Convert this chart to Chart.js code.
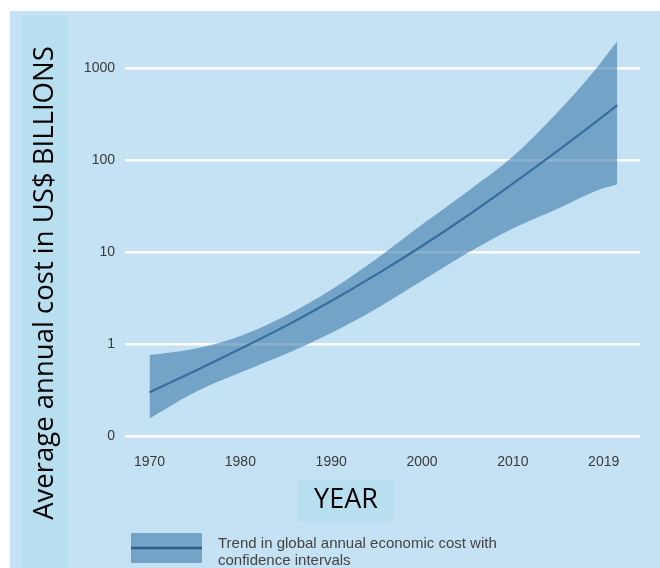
<!DOCTYPE html>
<html>
<head>
<meta charset="utf-8">
<script src="https://cdn.jsdelivr.net/npm/chart.js@4.4.0/dist/chart.umd.min.js"></script>
<style>
  html, body { margin: 0; padding: 0; background: #fff; }
  canvas { display: block; }
</style>
</head>
<body>
<canvas id="chart" width="660" height="568"></canvas>
<script>
// values, US$ billions (log scale)
const years = [1970, 1975, 1980, 1985, 1990, 1995, 2000, 2005, 2010, 2015, 2019, 2021.5];
const trend = [0.30, 0.51, 0.89, 1.58, 2.95, 5.75, 11.7, 25, 56, 129, 257, 400];
const upperBound = [0.76, 0.89, 1.23, 2.04, 3.9, 8.5, 20, 46, 110, 340, 950, 2000];
const lowerBound = [0.155, 0.30, 0.49, 0.78, 1.32, 2.45, 4.9, 9.8, 18.2, 30, 46, 55];

const yTickValues = [0.1, 1, 10, 100, 1000];
const yTickLabels = ['0', '1', '10', '100', '1000'];
const xTickValues = [1970, 1980, 1990, 2000, 2010, 2020];
const xTickLabels = ['1970', '1980', '1990', '2000', '2010', '2019'];

const bgBlue = '#c4e2f3';
const panelBlue = '#b7dff0';
const bandFill = 'rgba(61, 123, 171, 0.6)';
const bandSolid = '#73a4c8';
const lineBlue = '#2c5c8c';

const toPoints = vals => vals.map((v, i) => ({ x: years[i], y: v }));

const decorPlugin = {
    id: 'decor',
    beforeDraw: (chart) => {
        const { ctx } = chart;
        ctx.save();
        ctx.fillStyle = '#ffffff';
        ctx.fillRect(0, 0, chart.width, chart.height);
        ctx.fillStyle = bgBlue;
        ctx.fillRect(10, 11, chart.width - 10, chart.height - 11);
        ctx.fillStyle = panelBlue;
        ctx.fillRect(22, 16, 46, chart.height - 16);
        ctx.fillRect(297, 480, 96, 41);
        ctx.restore();
    },
    afterDraw: (chart) => {
        const { ctx } = chart;
        ctx.save();
        // y axis title
        ctx.translate(45, 283);
        ctx.rotate(-Math.PI / 2);
        ctx.fillStyle = '#000';
        ctx.font = '27.5px "Open Sans"';
        ctx.textAlign = 'center';
        ctx.textBaseline = 'middle';
        ctx.fillText('Average annual cost in US$ BILLIONS', 0, 0);
        ctx.restore();

        ctx.save();
        ctx.fillStyle = '#000';
        ctx.font = '27px "Open Sans"';
        ctx.textAlign = 'center';
        ctx.textBaseline = 'middle';
        ctx.fillText('YEAR', 346, 500);

        // legend
        ctx.fillStyle = bandSolid;
        ctx.fillRect(131, 533, 71, 30);
        ctx.strokeStyle = lineBlue;
        ctx.lineWidth = 2.5;
        ctx.beginPath();
        ctx.moveTo(131, 548);
        ctx.lineTo(202, 548);
        ctx.stroke();
        ctx.fillStyle = '#444';
        ctx.font = '15px "Liberation Sans"';
        ctx.textAlign = 'left';
        ctx.textBaseline = 'middle';
        ctx.fillText('Trend in global annual economic cost with', 218, 544);
        ctx.fillText('confidence intervals', 218, 561);
        ctx.restore();
    }
};

new Chart(document.getElementById('chart'), {
    type: 'line',
    data: {
        datasets: [
            {
                label: 'upper',
                data: toPoints(upperBound),
                borderWidth: 0,
                borderColor: 'rgba(0,0,0,0)',
                pointRadius: 0,
                fill: false,
                cubicInterpolationMode: 'monotone',
            },
            {
                label: 'lower',
                data: toPoints(lowerBound),
                borderWidth: 0,
                borderColor: 'rgba(0,0,0,0)',
                backgroundColor: bandFill,
                pointRadius: 0,
                fill: 0,
                cubicInterpolationMode: 'monotone',
            },
            {
                label: 'Trend in global annual economic cost with confidence intervals',
                data: toPoints(trend),
                borderColor: lineBlue,
                borderWidth: 2.2,
                pointRadius: 0,
                fill: false,
                cubicInterpolationMode: 'monotone',
            },
        ],
    },
    options: {
        responsive: false,
        animation: false,
        layout: { padding: { left: 0, right: 20, top: 32, bottom: 0 } },
        plugins: {
            legend: { display: false },
            tooltip: { enabled: false },
        },
        scales: {
            x: {
                type: 'linear',
                min: 1967.3,
                max: 2024,
                grid: { display: false },
                border: { display: false },
                afterBuildTicks: (scale) => {
                    scale.ticks = xTickValues.map(v => ({ value: v }));
                },
                afterFit: (scale) => { scale.height = 132; },
                ticks: {
                    padding: 10,
                    color: '#3a3a3a',
                    font: { family: '"Liberation Sans"', size: 14 },
                    maxRotation: 0,
                    callback: function (value) {
                        const i = xTickValues.indexOf(value);
                        return i >= 0 ? xTickLabels[i] : '';
                    }
                }
            },
            y: {
                type: 'logarithmic',
                min: 0.1,
                max: 2500,
                border: { display: false },
                grid: { color: '#ffffff', lineWidth: 2.5, drawTicks: false },
                afterBuildTicks: (scale) => {
                    scale.ticks = yTickValues.map(v => ({ value: v }));
                },
                afterFit: (scale) => { scale.width = 125; },
                ticks: {
                    padding: 10,
                    color: '#3a3a3a',
                    font: { family: '"Liberation Sans"', size: 14 },
                    callback: function (value) {
                        const i = yTickValues.indexOf(value);
                        return i >= 0 ? yTickLabels[i] : '';
                    }
                }
            }
        }
    },
    plugins: [decorPlugin],
});
</script>
</body>
</html>
